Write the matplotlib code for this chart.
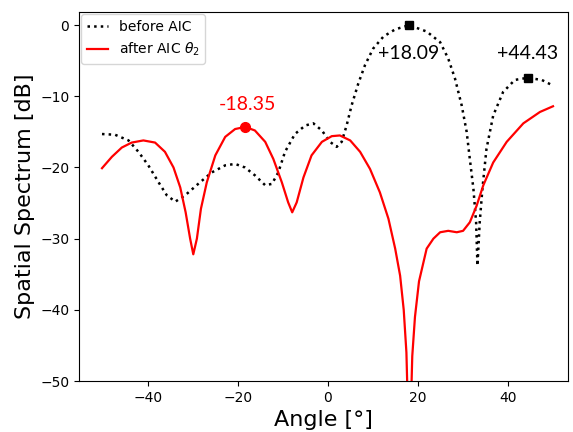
import matplotlib
matplotlib.use("Agg")
import matplotlib.pyplot as plt

# before AIC (dotted black)
ang_before = [-50.2, -47.3, -44.3, -42.1, -39.9, -37.6, -35.8, -33.9, -31.7, -28.8,
              -25.8, -22.8, -20.6, -18.4, -16.2, -13.9, -12.4, -11.0, -9.5, -7.3,
              -5.0, -3.2, -1.3, 0.5, 2.0, 3.1, 4.2, 5.3, 6.8, 8.3,
              10.1, 12.4, 15.0, 18.09, 22.0, 25.0, 26.8, 28.3, 29.8, 30.9,
              31.6, 32.4, 33.0, 33.3, 33.8, 34.4, 35.3, 36.8, 39.0, 41.6,
              44.43, 47.6, 50.1]
db_before = [-15.3, -15.4, -16.2, -17.8, -19.7, -22.1, -23.9, -24.8, -23.9, -22.3,
             -20.7, -19.7, -19.5, -20.0, -21.1, -22.5, -22.3, -20.7, -17.8, -15.3,
             -14.1, -13.8, -14.8, -16.4, -17.1, -16.4, -14.1, -11.3, -8.2, -5.6,
             -3.3, -1.6, -0.6, 0.0, -0.9, -2.4, -4.7, -7.5, -11.3, -15.0,
             -18.8, -23.0, -27.7, -33.8, -27.7, -23.0, -17.4, -12.7, -9.4, -7.7,
             -7.4, -7.7, -8.5]

# after AIC theta_2 (red)
ang_after = [-50.2, -48.0, -45.8, -43.6, -41.0, -38.4, -36.2, -34.3, -32.8, -31.6,
             -30.6, -29.9, -29.1, -28.2, -26.9, -25.0, -22.8, -20.6, -18.35, -16.2,
             -13.9, -12.1, -10.2, -8.8, -7.9, -6.9, -5.4, -3.6, -1.3, 0.9,
             2.7, 5.0, 7.2, 9.4, 11.6, 13.5, 15.0, 16.1, 16.9, 17.5,
             18.15, 18.8, 19.4, 20.3, 22.0, 23.5, 25.0, 26.8, 28.7, 30.1,
             31.6, 33.1, 34.6, 36.8, 39.8, 43.5, 47.2, 50.1]
db_after = [-20.1, -18.5, -17.2, -16.5, -16.2, -16.5, -17.8, -20.0, -22.8, -26.3,
            -30.0, -32.2, -30.0, -25.8, -22.1, -18.3, -15.7, -14.6, -14.3, -14.8,
            -16.4, -18.8, -22.1, -24.9, -26.3, -24.9, -21.4, -18.3, -16.4, -15.6,
            -15.5, -16.2, -17.8, -20.2, -23.5, -27.2, -31.4, -35.2, -40.0, -46.0,
            -62.0, -46.5, -41.0, -36.0, -31.4, -30.0, -29.1, -28.9, -29.1, -28.9,
            -27.7, -25.4, -22.5, -19.3, -16.4, -13.8, -12.2, -11.4]

peaks_before = [18.09, 44.43]
peaks_before_db = [0.0, -7.4]
peak_after = -18.35
peak_after_db = -14.3

fig = plt.figure(figsize=(5.73, 4.32), dpi=100)
ax = fig.add_axes([0.138, 0.118, 0.853, 0.854])

ax.plot(ang_before, db_before, ":", color="black", lw=1.8, label="before AIC")
ax.plot(ang_after, db_after, "-", color="red", lw=1.6, label=r"after AIC $\theta_2$")

ax.plot(peaks_before, peaks_before_db, "s", color="black", ms=6)
ax.plot([peak_after], [peak_after_db], "o", color="red", ms=7)

ax.text(peak_after + 0.5, peak_after_db + 3.2, "-18.35", color="red",
        fontsize=14, family="Lato", ha="center", va="center")
for a, d in zip(peaks_before, peaks_before_db):
    ax.text(a, -3.95, f"+{a:.2f}", color="black", fontsize=14, family="Lato",
            ha="center", va="center")

ax.set_xlim(-55.3, 53.4)
ax.set_ylim(-50, 1.83)
ax.set_xticks([-40, -20, 0, 20, 40])
ax.set_yticks([0, -10, -20, -30, -40, -50])
ax.set_xlabel("Angle [°]", fontsize=16)
ax.set_ylabel("Spatial Spectrum [dB]", fontsize=16)
ax.legend(loc="upper left", fontsize=10, handlelength=1.5, borderaxespad=0.15)

fig.savefig("out.png", dpi=100)
